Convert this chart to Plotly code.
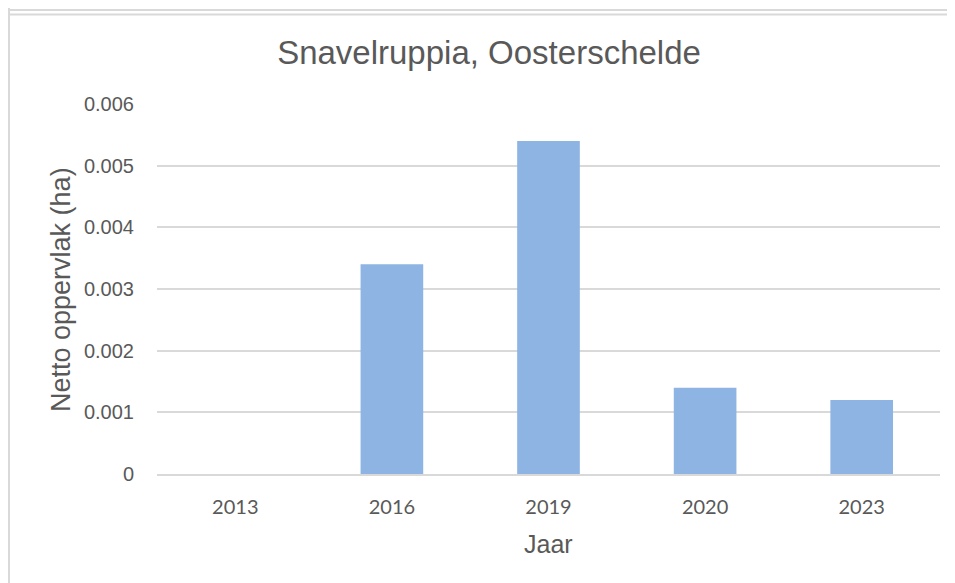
import plotly.graph_objects as go

years = ["2013", "2016", "2019", "2020", "2023"]
area_ha = [0, 0.0034, 0.0054, 0.0014, 0.0012]
y_ticks = [0, 0.001, 0.002, 0.003, 0.004, 0.005, 0.006]
y_tick_labels = ["0", "0.001", "0.002", "0.003", "0.004", "0.005", "0.006"]

# page body has an 8px margin; work in screen pixels and offset
OFF = 8
W, H = 955 - OFF, 583 - OFF
L, R, T, B = 157 - OFF, 955 - 940, 104 - OFF, 583 - 474
pw, ph = W - L - R, H - T - B

def px(x):
    return (x - OFF - L) / pw

def py(y):
    return (H - B - (y - OFF)) / ph

grey = "#595959"
fig = go.Figure(go.Bar(
    x=years, y=area_ha,
    marker=dict(color="#8eb4e3", line=dict(width=0)),
    width=0.4,
))

fig.update_layout(
    width=W, height=H,
    margin=dict(l=L, r=R, t=T, b=B, autoexpand=False),
    paper_bgcolor="white", plot_bgcolor="white",
    showlegend=False,
    title=dict(text="Snavelruppia, Oosterschelde", x=(489 - OFF) / W, xanchor="center",
               y=1 - (52 - OFF) / H, yanchor="middle",
               font=dict(family="Liberation Sans, Arial", size=33, color=grey)),
    bargap=0.6,
)
fig.update_xaxes(
    type="category", showgrid=False, showline=True, linecolor="#d9d9d9", linewidth=2,
    ticks="", tickfont=dict(family="Lato, Carlito, Calibri", size=20, color=grey),
    ticklabelstandoff=14,
)
fig.update_yaxes(
    range=[0, 0.006], tickvals=y_ticks, ticktext=y_tick_labels,
    showgrid=True, gridcolor="#d9d9d9", gridwidth=1.5, zeroline=False,
    showline=False, ticks="",
    tickfont=dict(family="Liberation Sans, Arial", size=20, color=grey),
    ticklabelstandoff=22,
)
fig.add_annotation(text="Netto oppervlak (ha)", xref="paper", yref="paper",
                   x=px(61), y=py(290), textangle=-90, showarrow=False,
                   xanchor="center", yanchor="middle",
                   font=dict(family="Liberation Sans, Arial", size=27, color=grey))
fig.add_annotation(text="Jaar", xref="paper", yref="paper",
                   x=px(548), y=py(544), showarrow=False,
                   xanchor="center", yanchor="middle",
                   font=dict(family="Liberation Sans, Arial", size=25, color=grey))

border = dict(color="#d9d9d9", width=2)
fig.add_shape(type="line", xref="paper", yref="paper", x0=px(8), x1=px(1000),
              y0=py(10), y1=py(10), line=border)
fig.add_shape(type="line", xref="paper", yref="paper", x0=px(8), x1=px(1000),
              y0=py(14.5), y1=py(14.5), line=border)
fig.add_shape(type="line", xref="paper", yref="paper", x0=px(9), x1=px(9),
              y0=py(0), y1=py(590), line=border)

fig.write_html("out.html")
